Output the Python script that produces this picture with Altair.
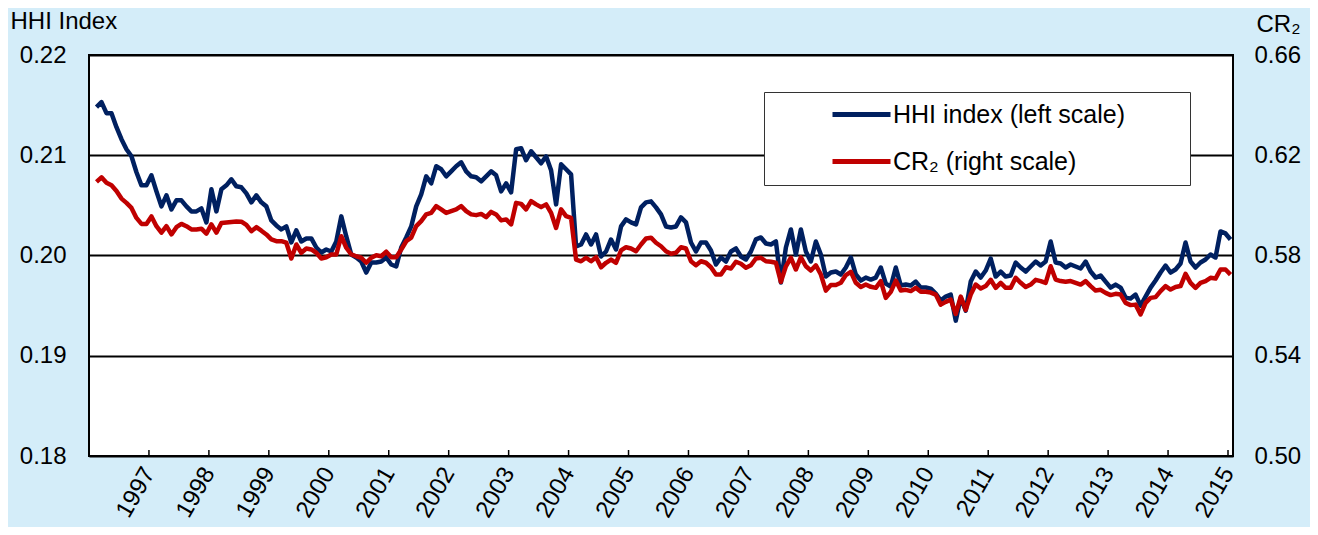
import altair as alt
import pandas as pd

# ---- data (monthly, starting Feb 1996) ----
start_year = 1996
start_month = 2

hhi = [
    0.2148, 0.2153, 0.2142, 0.2142, 0.2128, 0.2116, 0.2106, 0.2099, 0.2083, 0.2070,
    0.2070, 0.2080, 0.2064, 0.2049, 0.2060, 0.2046, 0.2055, 0.2055, 0.2049, 0.2044,
    0.2044, 0.2047, 0.2033, 0.2066, 0.2044, 0.2066, 0.2070, 0.2076, 0.2069, 0.2068,
    0.2062, 0.2053, 0.2060, 0.2053, 0.2049, 0.2035, 0.2030, 0.2026, 0.2029, 0.2013,
    0.2025, 0.2014, 0.2017, 0.2017, 0.2008, 0.2003, 0.2006, 0.2004, 0.2014, 0.2039,
    0.2019, 0.2001, 0.1998, 0.1994, 0.1983, 0.1993, 0.1993, 0.1994, 0.1998, 0.1991,
    0.1989, 0.2008, 0.2018, 0.2029, 0.2049, 0.2061, 0.2079, 0.2072, 0.2089, 0.2086,
    0.2079, 0.2084, 0.2089, 0.2093, 0.2084, 0.2079, 0.2078, 0.2074, 0.2079, 0.2084,
    0.2080, 0.2064, 0.2072, 0.2063, 0.2106, 0.2107, 0.2095, 0.2104, 0.2098, 0.2092,
    0.2099, 0.2085, 0.2051, 0.2091, 0.2086, 0.2081, 0.2009, 0.2011, 0.2021, 0.2011,
    0.2021, 0.1999, 0.2004, 0.2016, 0.2006, 0.2029, 0.2036, 0.2033, 0.2031, 0.2048,
    0.2053, 0.2054, 0.2048, 0.2041, 0.2029, 0.2028, 0.2029, 0.2038, 0.2033, 0.2013,
    0.2004, 0.2013, 0.2013, 0.2005, 0.1991, 0.1998, 0.1994, 0.2004, 0.2007, 0.1999,
    0.1996, 0.2004, 0.2016, 0.2018, 0.2012, 0.2011, 0.2014, 0.1973, 0.2008, 0.2026,
    0.2001, 0.2026, 0.2004, 0.1994, 0.2014, 0.2001, 0.1979, 0.1983, 0.1984, 0.1981,
    0.1988, 0.1998, 0.1981, 0.1975, 0.1978, 0.1976, 0.1978, 0.1988, 0.1972, 0.1969,
    0.1988, 0.1970, 0.1971, 0.1970, 0.1974, 0.1968, 0.1968, 0.1967, 0.1962, 0.1955,
    0.1959, 0.1961, 0.1935, 0.1958, 0.1945, 0.1974, 0.1984, 0.1978, 0.1985, 0.1997,
    0.1979, 0.1984, 0.1979, 0.1980, 0.1993, 0.1988, 0.1984, 0.1989, 0.1994, 0.1990,
    0.1994, 0.2014, 0.1993, 0.1992, 0.1988, 0.1991, 0.1989, 0.1987, 0.1994, 0.1984,
    0.1978, 0.1980, 0.1974, 0.1968, 0.1971, 0.1968, 0.1958, 0.1957, 0.1961, 0.1950,
    0.1959, 0.1968, 0.1975, 0.1983, 0.1990, 0.1983, 0.1986, 0.1992, 0.2013, 0.1994,
    0.1988, 0.1993, 0.1996, 0.2001, 0.1998, 0.2024, 0.2022, 0.2016,
]

cr2 = [
    0.6094, 0.6112, 0.6090, 0.6080, 0.6057, 0.6027, 0.6010, 0.5990, 0.5950, 0.5926,
    0.5926, 0.5956, 0.5917, 0.5891, 0.5917, 0.5884, 0.5913, 0.5926, 0.5917, 0.5904,
    0.5904, 0.5907, 0.5887, 0.5924, 0.5891, 0.5930, 0.5932, 0.5934, 0.5936, 0.5935,
    0.5922, 0.5897, 0.5913, 0.5899, 0.5884, 0.5864, 0.5857, 0.5857, 0.5851, 0.5788,
    0.5844, 0.5811, 0.5828, 0.5824, 0.5811, 0.5788, 0.5793, 0.5804, 0.5804, 0.5877,
    0.5831, 0.5804, 0.5797, 0.5791, 0.5771, 0.5791, 0.5801, 0.5797, 0.5815, 0.5793,
    0.5793, 0.5824, 0.5857, 0.5871, 0.5917, 0.5937, 0.5964, 0.5970, 0.5997, 0.5984,
    0.5970, 0.5977, 0.5984, 0.5997, 0.5977, 0.5964, 0.5961, 0.5966, 0.5953, 0.5974,
    0.5964, 0.5940, 0.5944, 0.5924, 0.6010, 0.6006, 0.5984, 0.6017, 0.6004, 0.5993,
    0.6004, 0.5970, 0.5910, 0.5984, 0.5957, 0.5950, 0.5784, 0.5777, 0.5791, 0.5777,
    0.5793, 0.5753, 0.5771, 0.5784, 0.5771, 0.5820, 0.5833, 0.5828, 0.5817, 0.5844,
    0.5868, 0.5871, 0.5851, 0.5837, 0.5817, 0.5807, 0.5811, 0.5833, 0.5828, 0.5777,
    0.5761, 0.5777, 0.5771, 0.5753, 0.5724, 0.5724, 0.5753, 0.5748, 0.5775, 0.5767,
    0.5751, 0.5761, 0.5788, 0.5791, 0.5777, 0.5775, 0.5771, 0.5695, 0.5757, 0.5791,
    0.5744, 0.5793, 0.5757, 0.5740, 0.5761, 0.5724, 0.5660, 0.5682, 0.5682, 0.5691,
    0.5722, 0.5735, 0.5691, 0.5674, 0.5684, 0.5675, 0.5671, 0.5698, 0.5631, 0.5655,
    0.5700, 0.5660, 0.5663, 0.5658, 0.5671, 0.5655, 0.5655, 0.5652, 0.5644, 0.5604,
    0.5615, 0.5624, 0.5567, 0.5636, 0.5583, 0.5644, 0.5684, 0.5668, 0.5678, 0.5703,
    0.5671, 0.5691, 0.5671, 0.5671, 0.5711, 0.5691, 0.5674, 0.5684, 0.5703, 0.5698,
    0.5691, 0.5757, 0.5704, 0.5698, 0.5695, 0.5698, 0.5691, 0.5684, 0.5698, 0.5678,
    0.5660, 0.5663, 0.5651, 0.5642, 0.5647, 0.5644, 0.5611, 0.5602, 0.5604, 0.5565,
    0.5611, 0.5631, 0.5634, 0.5658, 0.5678, 0.5664, 0.5674, 0.5678, 0.5727, 0.5691,
    0.5671, 0.5691, 0.5698, 0.5711, 0.5708, 0.5744, 0.5744, 0.5724,
]

years = list(range(1997, 2016))
hhi_ticks = [0.18, 0.19, 0.20, 0.21, 0.22]
cr2_ticks = [0.50, 0.54, 0.58, 0.62, 0.66]
series_names = ["HHI index (left scale)", "CR\u2082  (right scale)"]
series_colors = ["#002060", "#C00000"]

FONT = "Liberation Sans"
FS = 24
BG = "#d4edf9"
W, H = 1144, 401

# month mid-points expressed as fractional years
x_pos = [start_year + (start_month - 1 + i + 0.5) / 12 for i in range(len(hhi))]
df_h = pd.DataFrame({"x": x_pos, "v": hhi, "s": series_names[0]})
df_c = pd.DataFrame({"x": x_pos, "v": cr2, "s": series_names[1]})
df_t = pd.DataFrame({"x": years})

xscale = alt.Scale(domain=[start_year, start_year + 229 / 12], nice=False, zero=False)
x_axis = alt.Axis(
    values=years, format="d", labelAngle=-60, labelAlign="right",
    labelBaseline="middle", labelPadding=13, ticks=False, tickSize=0,
    domain=False, grid=False, labelFontSize=FS, labelFont=FONT,
    labelColor="black", title=None, labelOverlap=False, labelFlush=False,
    labelBound=False,
)

pad_chars = "\u2800" * 3
color = alt.Color(
    "s:N",
    scale=alt.Scale(domain=series_names, range=series_colors),
    legend=alt.Legend(
        orient="none", legendX=675, legendY=37, title=None,
        symbolType="stroke", symbolSize=3364, symbolStrokeWidth=5,
        labelFontSize=25, labelFont=FONT, labelColor="black", labelLimit=800,
        padding=10, rowPadding=21, clipHeight=25, symbolOffset=56, labelOffset=0,
        strokeColor="#333333", fillColor="white",
        labelExpr="datum.label + '" + pad_chars + "'",
    ),
)

left_axis = alt.Axis(
    orient="left", values=hhi_ticks, format=".2f", grid=True,
    gridColor="black", gridWidth=2, gridOpacity=1, domain=False, ticks=False,
    labelPadding=23, labelFontSize=FS, labelFont=FONT, labelColor="black",
    title="HHI Index", titleAngle=0, titleAlign="left", titleBaseline="middle",
    titleX=-79, titleY=-34, titleFontSize=FS, titleFont=FONT,
    titleFontWeight="normal", titleColor="black",
)
right_axis = alt.Axis(
    orient="right", values=cr2_ticks, format=".2f", grid=False,
    domain=False, ticks=False, labelPadding=21, labelFontSize=FS,
    labelFont=FONT, labelColor="black",
    title="CR\u2082", titleAngle=0, titleAlign="left", titleBaseline="middle",
    titleX=23, titleY=-31, titleFontSize=FS, titleFont=FONT,
    titleFontWeight="normal", titleColor="black",
)

blue = alt.Chart(df_h).mark_line(strokeWidth=4.5, strokeJoin="round").encode(
    x=alt.X("x:Q", scale=xscale, axis=x_axis),
    y=alt.Y("v:Q", scale=alt.Scale(domain=[0.18, 0.22], nice=False, zero=False), axis=left_axis),
    color=color,
)
red = alt.Chart(df_c).mark_line(strokeWidth=4.5, strokeJoin="round").encode(
    x=alt.X("x:Q", scale=xscale),
    y=alt.Y("v:Q", scale=alt.Scale(domain=[0.50, 0.66], nice=False, zero=False), axis=right_axis),
    color=color,
)
ticks = alt.Chart(df_t).mark_rule(color="black", strokeWidth=1.5).encode(
    x=alt.X("x:Q", scale=xscale),
    y=alt.value(H - 6),
    y2=alt.value(H),
)

chart = (
    alt.layer(blue, red, ticks)
    .resolve_scale(y="independent")
    .properties(
        width=W, height=H, background=BG,
        padding={"left": 81, "top": 47, "right": 77, "bottom": 71},
        autosize=alt.AutoSizeParams(type="none"),
    )
    .configure_view(fill="white", stroke="black", strokeWidth=2)
)

chart.save("out.html", embed_options={"renderer": "svg", "actions": False})
